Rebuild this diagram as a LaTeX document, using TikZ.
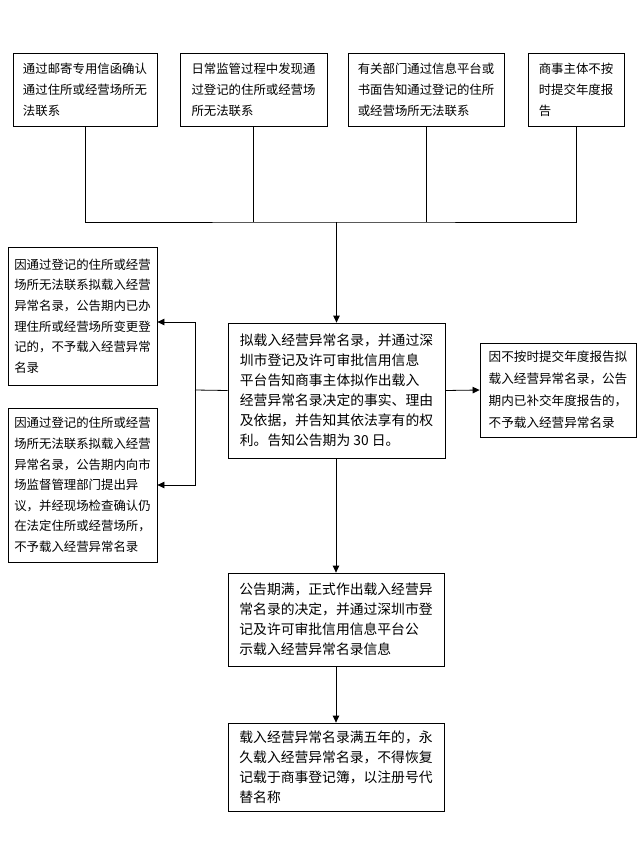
\documentclass[tikz,border=0pt]{standalone}
\usepackage{fontspec}
\newfontfamily\cjk{Noto Sans CJK SC}
\usetikzlibrary{arrows.meta}

\begin{document}
\begin{tikzpicture}[x=1pt, y=-1pt, line width=.8pt,
	kasten/.style={draw, align=left, inner sep=0pt, font=\cjk\fontsize{12.4}{21}\selectfont},
	gross/.style={kasten, font=\cjk\fontsize{13.8}{20}\selectfont},
	pfeil/.style={-{Triangle[length=7pt,width=6.5pt]}}]
	\useasboundingbox (0,0) rectangle (637,843);
	% obere Reihe
	\node[kasten, minimum width=144pt, minimum height=73pt] (t1) at (85,89.5)    {通过邮寄专用信函确认\\通过住所或经营场所无\\法联系};
	\node[kasten, minimum width=147pt, minimum height=73pt] (t2) at (253.5,89.5) {日常监管过程中发现通\\过登记的住所或经营场\\所无法联系};
	\node[kasten, minimum width=156pt, minimum height=73pt] (t3) at (426,89.5)   {有关部门通过信息平台或\\书面告知通过登记的住所\\或经营场所无法联系};
	\node[kasten, minimum width=96pt,  minimum height=73pt] (t4) at (576,89.5)   {商事主体不按\\时提交年度报\\告};
	% Mitte
	\node[gross, minimum width=217pt, minimum height=135pt] (m) at (336.5,390.5) {拟载入经营异常名录，并通过深\\圳市登记及许可审批信用信息\\平台告知商事主体拟作出载入\\经营异常名录决定的事实、理由\\及依据，并告知其依法享有的权\\利。告知公告期为 30 日。};
	\node[kasten, minimum width=156pt, minimum height=94pt, font=\cjk\fontsize{12.6}{22}\selectfont] (r) at (558,390) {因不按时提交年度报告拟\\载入经营异常名录，公告\\期内已补交年度报告的，\\不予载入经营异常名录};
	\node[kasten, minimum width=149pt, minimum height=138pt, font=\cjk\fontsize{12.4}{20.6}\selectfont] (l1) at (82.5,316) {因通过登记的住所或经营\\场所无法联系拟载入经营\\异常名录，公告期内已办\\理住所或经营场所变更登\\记的，不予载入经营异常\\名录};
	\node[kasten, minimum width=149pt, minimum height=154pt, font=\cjk\fontsize{12.4}{20.6}\selectfont] (l2) at (82.5,485) {因通过登记的住所或经营\\场所无法联系拟载入经营\\异常名录，公告期内向市\\场监督管理部门提出异\\议，并经现场检查确认仍\\在法定住所或经营场所，\\不予载入经营异常名录};
	% untere Kaesten
	\node[gross, minimum width=216pt, minimum height=93pt] (b1) at (336,619.5) {公告期满，正式作出载入经营异\\常名录的决定，并通过深圳市登\\记及许可审批信用信息平台公\\示载入经营异常名录信息};
	\node[gross, minimum width=216pt, minimum height=88pt] (b2) at (336,767)   {载入经营异常名录满五年的，永\\久载入经营异常名录，不得恢复\\记载于商事登记簿，以注册号代\\替名称};
	% Verbindungen
	\coordinate (sammel) at (336.5,222);
	\coordinate (knick)  at (195,390);
	\coordinate (oben)   at (0,322);
	\draw (t1.south) |- (sammel) -| (t4.south);
	\draw (t2.south) -- (t2.south |- sammel);
	\draw (t3.south) -- (t3.south |- sammel);
	\draw[pfeil] (sammel) -- (m.north);
	\draw (m.west) -- (knick);
	\draw[pfeil] (knick) |- (l1.east |- oben);
	\draw[pfeil] (knick) |- (l2.east);
	\draw[pfeil] (m.east) -- (r.west);
	\draw[pfeil] (m.south -| b1.north) -- (b1.north);
	\draw[pfeil] (b1.south) -- (b2.north);
\end{tikzpicture}
\end{document}
